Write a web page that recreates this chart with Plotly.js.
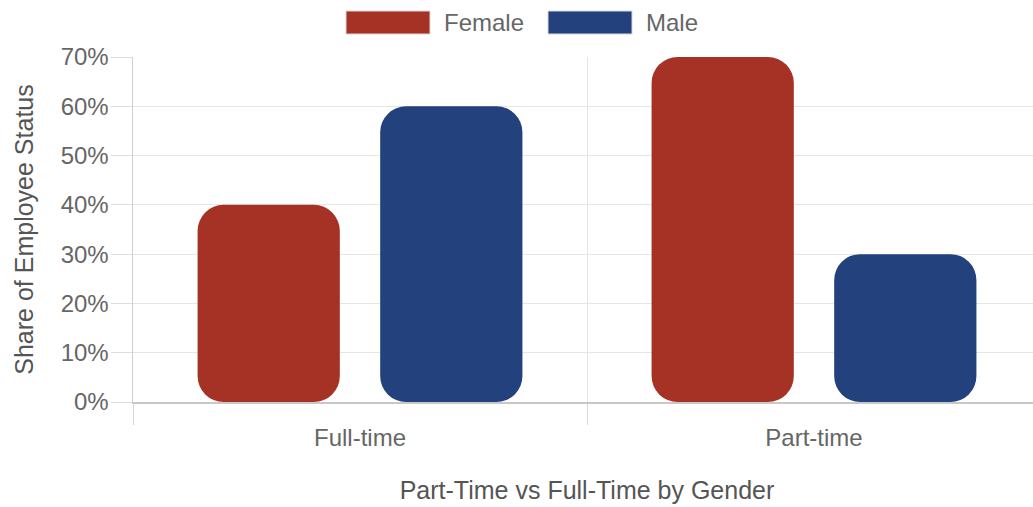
<!DOCTYPE html>
<html>
<head>
<meta charset="utf-8">
<script src="https://cdn.plot.ly/plotly-3.0.1.min.js"></script>
<style>html,body{margin:0;padding:0;background:#fff;overflow:hidden;}#chart{width:1041px;height:507px;}</style>
</head>
<body>
<div id="chart"></div>
<script>
const categories = ["Full-time", "Part-time"];
const seriesNames = ["Female", "Male"];
const femaleValues = [40, 70];
const maleValues = [60, 30];
const yTickValues = [0, 10, 20, 30, 40, 50, 60, 70];
const xTitle = "Part-Time vs Full-Time by Gender";
const yTitle = "Share of Employee Status";

const colors = ["#A63226", "#22417D"];
const FONT = "Liberation Sans, Arial, Helvetica, sans-serif";
const RADIUS = 26;

function series(values, name, color) {
  return {
    type: "bar", x: categories, y: values, name: name,
    base: values.map(() => 0),
    marker: {color: color, cornerradius: RADIUS, line: {width: 0}},
    hoverinfo: "skip"
  };
}

const data = [
  series(femaleValues, seriesNames[0], colors[0]),
  series(maleValues, seriesNames[1], colors[1])
];

// custom wide legend swatches (paper coords relative to plot area 133..1041)
const PW = 908;
const px = v => (v - 133) / PW;
const py = v => (402 - v) / 345;
const legendPos = [
  {x0: px(346), x1: px(430), tx: px(442)},
  {x0: px(548), x1: px(632), tx: px(644)}
];
const shapes = legendPos.map((p, i) => ({
  type: "rect", xref: "paper", yref: "paper",
  x0: p.x0, x1: p.x1, y0: py(34), y1: py(11),
  fillcolor: colors[i], line: {width: 1, color: "#d8d8d8"}
}));
const annotations = legendPos.map((p, i) => ({
  xref: "paper", yref: "paper", x: p.tx, y: py(22.5),
  xanchor: "left", yanchor: "middle", showarrow: false,
  text: seriesNames[i], font: {family: FONT, size: 24, color: "#666"}
}));

const layout = {
  width: 1041, height: 507,
  margin: {l: 133, r: 0, t: 57, b: 105},
  paper_bgcolor: "#fff", plot_bgcolor: "#fff",
  barmode: "group", bargap: 0.1956, bargroupgap: 0.221,
  showlegend: false,
  font: {family: FONT, color: "#666", size: 24},
  xaxis: {
    type: "category", range: [-0.5, 1.5],
    tickson: "boundaries", ticks: "outside", ticklen: 21, tickcolor: "#d9d9d9",
    showgrid: true, gridcolor: "#e3e3e3", gridwidth: 1,
    showline: true, linecolor: "#c8c8c8", linewidth: 1.5,
    ticklabelstandoff: 14,
    tickfont: {family: FONT, size: 24, color: "#666"},
    title: {text: xTitle, font: {family: FONT, size: 25, color: "#555"}, standoff: 31},
    fixedrange: true
  },
  yaxis: {
    range: [0, 70], tickvals: yTickValues, ticktext: yTickValues.map(v => v + "%"),
    ticks: "outside", ticklen: 21, tickcolor: "#dcdcdc",
    showgrid: true, gridcolor: "#e6e6e6", gridwidth: 1,
    showline: true, linecolor: "#cfcfcf", linewidth: 1.5,
    zeroline: false, ticklabelstandoff: -3,
    tickfont: {family: FONT, size: 24, color: "#666"},
    title: {text: yTitle, font: {family: FONT, size: 25, color: "#555"}, standoff: 20},
    fixedrange: true
  },
  shapes: shapes,
  annotations: annotations
};

Plotly.newPlot("chart", data, layout, {displayModeBar: false, staticPlot: true});
</script>
</body>
</html>
